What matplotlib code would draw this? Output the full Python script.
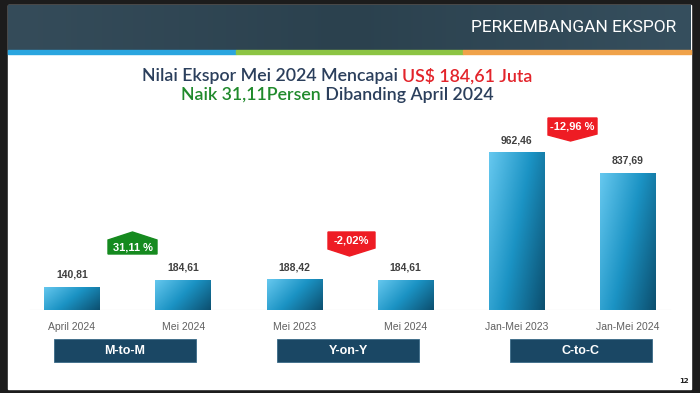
import numpy as np
import matplotlib.pyplot as plt
from matplotlib.patches import Rectangle, Polygon
from matplotlib.colors import LinearSegmentedColormap

# data
categories = ['April 2024', 'Mei 2024', 'Mei 2023', 'Mei 2024', 'Jan-Mei 2023', 'Jan-Mei 2024']
values = [140.81, 184.61, 188.42, 184.61, 962.46, 837.69]
value_labels = ['140,81', '184,61', '188,42', '184,61', '962,46', '837,69']
groups = ['M-to-M', 'Y-on-Y', 'C-to-C']
changes = ['31,11 %', '-2,02%', '-12,96 %']
change_up = [True, False, False]

narrow = ['Liberation Sans Narrow', 'Liberation Sans', 'DejaVu Sans']

fig = plt.figure(figsize=(7, 3.93), dpi=100)
fig.patch.set_facecolor('#1c1c1c')

# background / decoration axes in pixel coordinates
bg = fig.add_axes([0, 0, 1, 1])
bg.set_xlim(0, 700)
bg.set_ylim(393, 0)
bg.axis('off')

# slide body
bg.add_patch(Rectangle((8, 5), 683, 384, color='white', zorder=0))

# header band with a soft gradient
grad = np.linspace(0, 1, 256)[None, :]
hdr_cmap = LinearSegmentedColormap.from_list('hdr', ['#354c5a', '#2b414e', '#364f5e'])
bg.imshow(grad, extent=(8, 691, 51, 5), cmap=hdr_cmap, aspect='auto', zorder=1)
stripe_cols = ['#2aa5df', '#8cc443', '#f0a24a']
for k, c in enumerate(stripe_cols):
    bg.add_patch(Rectangle((8 + k * 683 / 3, 50), 683 / 3, 4, color=c, zorder=2))
bg.text(676, 27, 'PERKEMBANGAN EKSPOR', color='white', fontsize=12.5, family='Roboto',
        ha='right', va='center', zorder=3)

# title with coloured pieces
renderer = fig.canvas.get_renderer()


def colored_line(parts, y, size):
    texts = []
    for s, c in parts:
        texts.append(bg.text(0, y, s, color=c, fontsize=size, family='Lato', fontweight='semibold',
                             va='center', ha='left'))
    widths = [t.get_window_extent(renderer).width for t in texts]
    x = 337 - sum(widths) / 2
    for t, w in zip(texts, widths):
        t.set_x(x)
        x += w


navy = '#2b3f5c'
red = '#e3242b'
green = '#208a2c'
colored_line([('Nilai Ekspor Mei 2024 Mencapai ', navy), ('US$ 184,61 Juta', red)], 76, 12.8)
colored_line([('Naik 31,11Persen', green), (' Dibanding April 2024', navy)], 95, 12.8)

# bar axes
ax = fig.add_axes([16.4 / 700, (393 - 310) / 393, 667 / 700, 164 / 393])
ax.set_xlim(-0.5, 5.5)
ax.set_ylim(0, 1000)
ax.patch.set_alpha(0)
for s in ax.spines.values():
    s.set_visible(False)
ax.set_yticks([])
x = np.arange(len(categories))
bars = ax.bar(x, values, width=0.5, color='#1c8fc0', zorder=2)

bar_cmap = LinearSegmentedColormap.from_list('bar', ['#66c8ef', '#1b93c4', '#0c4f6f'])
gx, gy = np.meshgrid(np.linspace(0, 1, 64), np.linspace(0, 1, 64))
shade = 0.65 * gx + 0.35 * gy  # light top-left, dark bottom-right
for b in bars:
    x0, w, h = b.get_x(), b.get_width(), b.get_height()
    im = ax.imshow(shade, extent=(x0, x0 + w, 0, h), origin='upper', cmap=bar_cmap,
                   aspect='auto', zorder=3)
    im.set_clip_path(b)

ax.axhline(0, xmin=0.02, xmax=0.98, color='#d9d9d9', lw=0.8, zorder=1)

for xi, v, lab in zip(x, values, value_labels):
    ax.annotate(lab, (xi, v), xytext=(0, 5), textcoords='offset points', ha='center', va='bottom',
                fontsize=7.5, fontweight='bold', color='#404040', family=narrow)

ax.set_xticks(x)
ax.set_xticklabels(categories, fontsize=7.5, color='#606060', family=narrow)
ax.tick_params(axis='x', length=0, pad=9)

# group boxes
box_left = [54, 277, 510]
for bx, gname in zip(box_left, groups):
    bg.add_patch(Rectangle((bx, 339), 142, 23, facecolor='#1a4764', edgecolor='#3a6a88', lw=0.6, zorder=2))
    bg.text(bx + 71, 350.5, gname, color='white', fontsize=9, fontweight='bold', family=narrow,
            ha='center', va='center', zorder=3)

# change badges
badges = [(108, 157, 240, 254, 232), (328, 375, 232, 248, 256), (548, 597, 118, 134, 141)]
for (l, r, t, btm, tip), txt, up in zip(badges, changes, change_up):
    cx = (l + r) / 2
    if up:
        pts = [(l, btm), (r, btm), (r, t), (cx, tip), (l, t)]
        col = '#158a1f'
    else:
        pts = [(l, t), (r, t), (r, btm), (cx - 2, tip), (l, btm + 1)]
        col = '#ee1c24'
    bg.add_patch(Polygon(pts, closed=True, color=col, zorder=4))
    bg.text(cx, (t + btm) / 2 + 0.5, txt, color='white', fontsize=8, fontweight='bold', family=narrow,
            ha='center', va='center', zorder=5)

bg.text(684, 381, '12', fontsize=5, fontweight='bold', color='#222222', ha='center', va='center')

fig.savefig('out.png', dpi=100, facecolor=fig.get_facecolor())
